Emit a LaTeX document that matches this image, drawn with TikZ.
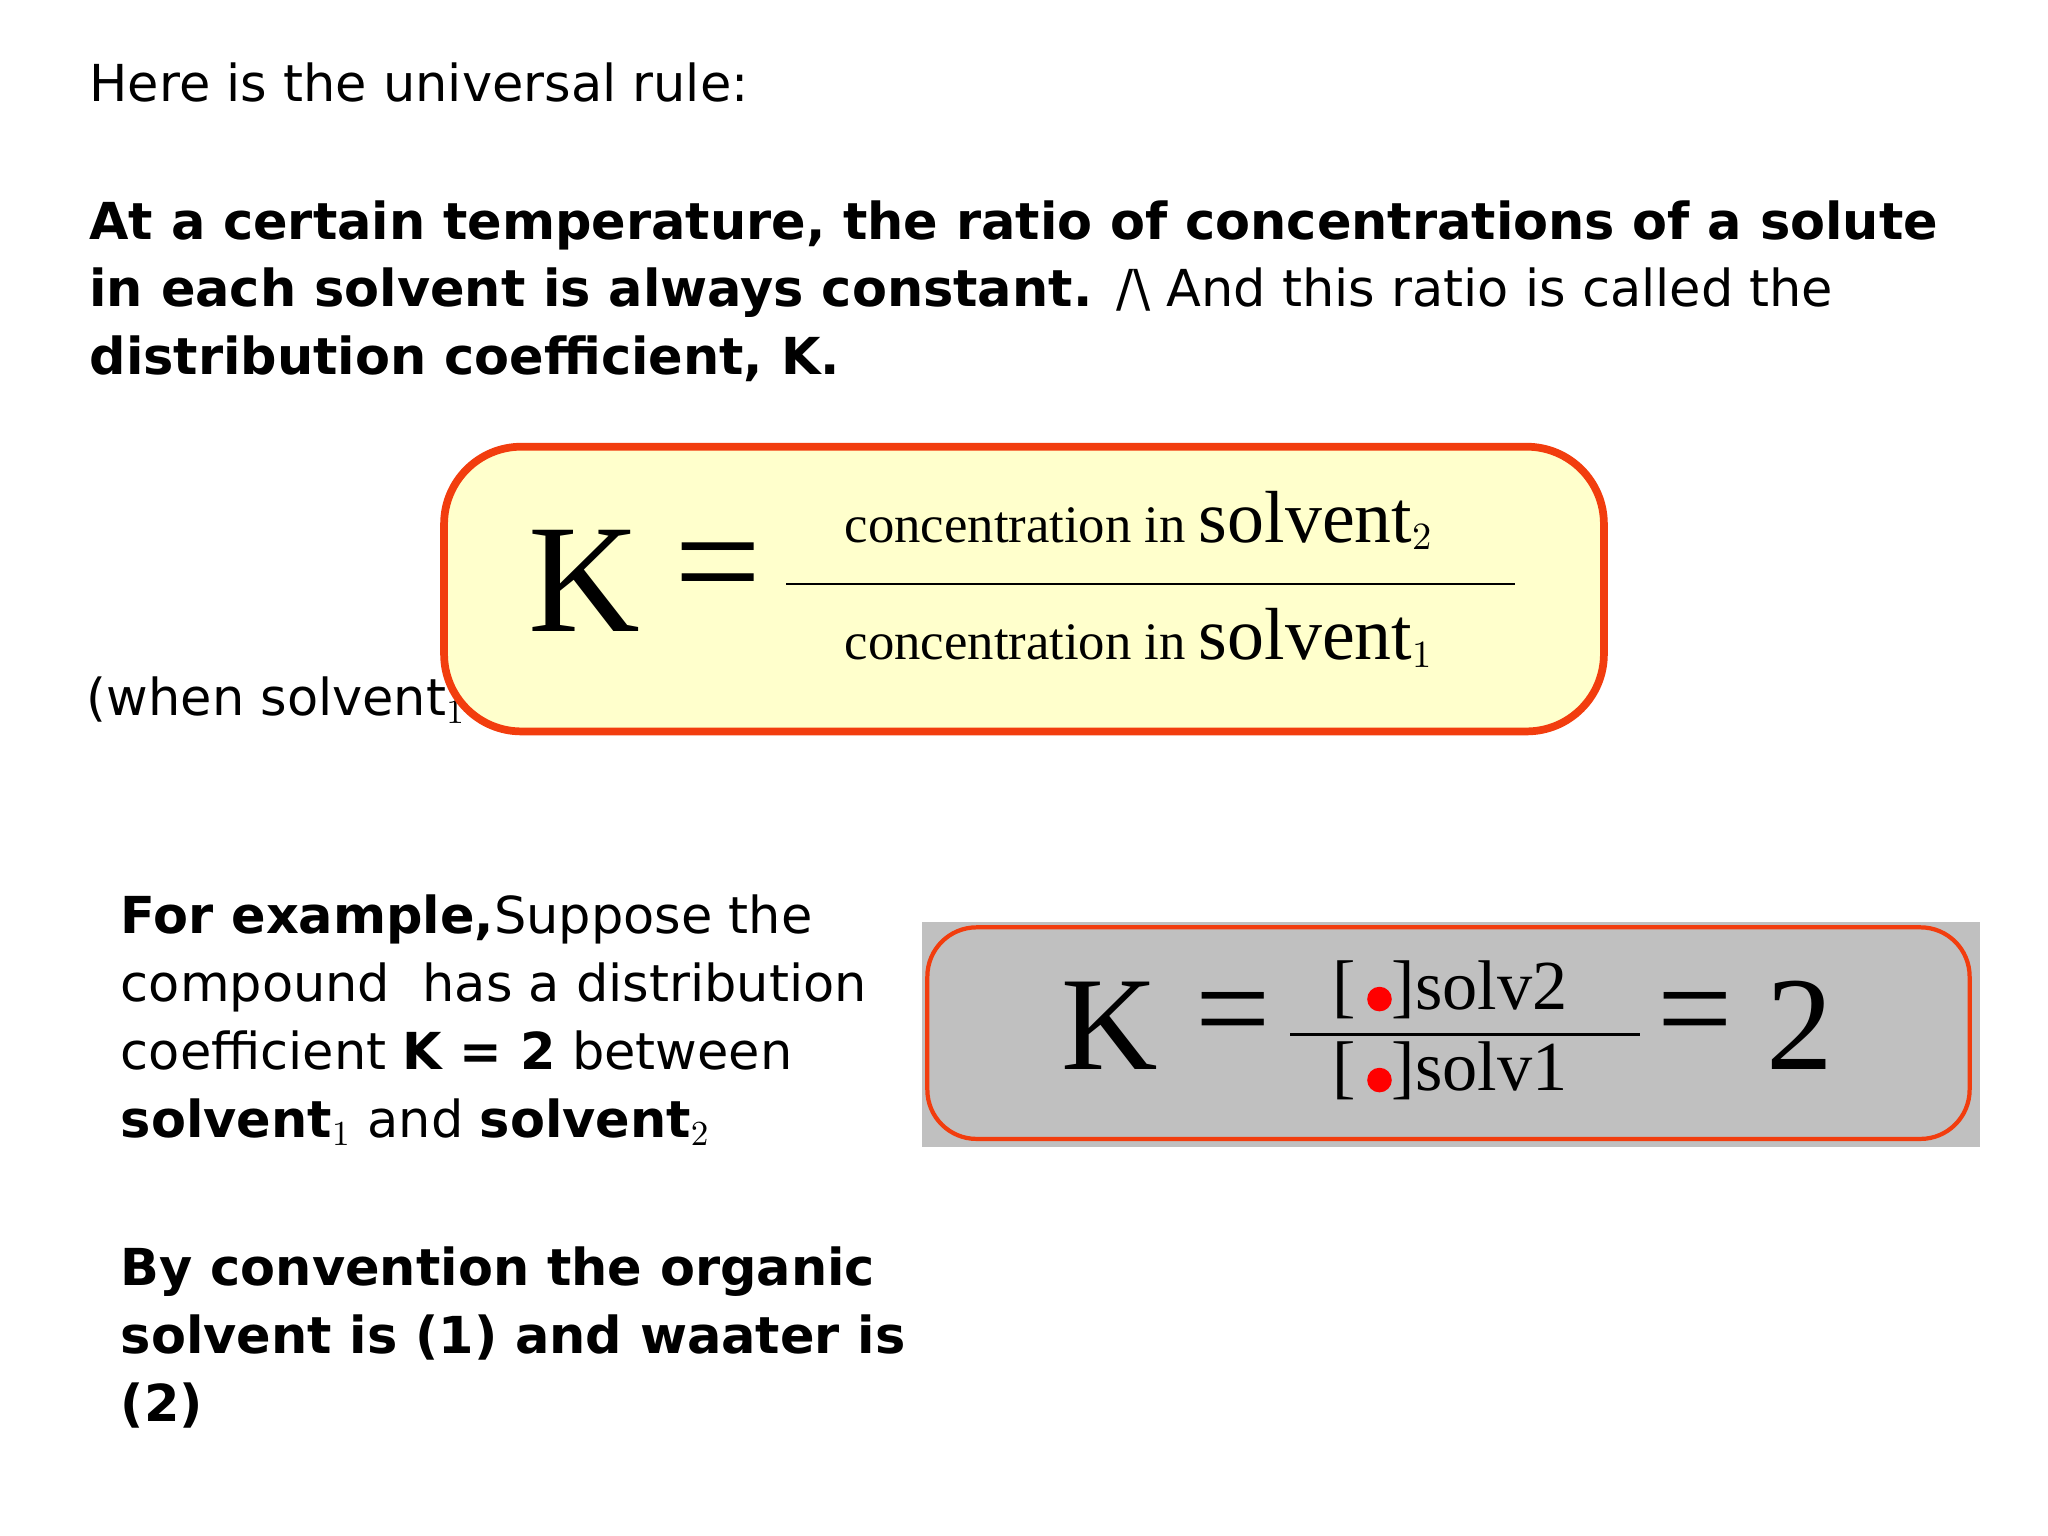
\documentclass[tikz,border=0pt]{standalone}
\usepackage{fontspec}
\setmainfont{DejaVu Sans}
\newfontfamily\serf{Liberation Serif}
\definecolor{boxred}{HTML}{F23D0E}
\definecolor{pale}{HTML}{FFFFCC}
\definecolor{gbox}{HTML}{C0C0C0}
\tikzset{x=0.01306cm,y=-0.01306cm,
 txt/.style={anchor=base west,inner sep=0pt,font=\fontsize{14.5}{19}\selectfont},
 big/.style={inner sep=0pt,font=\serf\fontsize{44}{44}\selectfont},
 mid/.style={inner sep=0pt,font=\serf\fontsize{38}{38}\selectfont}}
\newcommand{\rdot}{\tikz[baseline=-3pt]\fill[red] (0,0) circle (3.5pt);}
\begin{document}
\begin{tikzpicture}
\useasboundingbox[fill=white] (0,0) rectangle (1568,1176);
\node[txt] (t1) at (68,78) {Here is the universal rule:};
\node[txt] (t2) at (68,183) {\bfseries At a certain temperature, the ratio of concentrations of a solute};
\node[txt] (t3) at (68,235) {\bfseries in each solvent is always constant. \mdseries /\textbackslash\ And this ratio is called the};
\node[txt] (t4) at (68,287) {\bfseries distribution coefficient, K.};
\node[txt] (t5) at (66,548) {(when solvent$_1$};
\draw[boxred,line width=2.2pt,fill=pale,rounded corners=22] (340,342) rectangle (1228,560);
\node[big] (k1) at (447,445) {K};
\node[big] (eq1) at (550,443) {=};
\draw[line width=0.6pt] (602,447) -- (1160,447);
\node[inner sep=0pt,anchor=base] (num) at (872,415) {\serf\fontsize{15}{15}\selectfont concentration in {\fontsize{21}{21}\selectfont solvent}$_{\fontsize{13}{13}\selectfont 2}$};
\node[inner sep=0pt,anchor=base] (den) at (872,505) {\serf\fontsize{15}{15}\selectfont concentration in {\fontsize{21}{21}\selectfont solvent}$_{\fontsize{13}{13}\selectfont 1}$};
\node[txt] (e1) at (92,715) {\bfseries For example,\mdseries Suppose the};
\node[txt] (e2) at (92,767) {compound\ \ has a distribution};
\node[txt] (e3) at (92,819) {coefficient \textbf{K = 2} between};
\node[txt] (e4) at (92,871) {\textbf{solvent}$_1$ and \textbf{solvent}$_2$};
\node[txt] (c1) at (92,984) {\bfseries By convention the organic};
\node[txt] (c2) at (92,1036) {\bfseries solvent is (1) and waater is};
\node[txt] (c3) at (92,1088) {\bfseries (2)};
\fill[gbox] (706,706) rectangle (1516,878);
\draw[boxred,line width=1.2pt,rounded corners=14] (710,710) rectangle (1508,872);
\node[mid] (k2) at (850,785) {K};
\node[mid] (eq2) at (944,783) {=};
\draw[line width=0.6pt] (988,792) -- (1256,792);
\node[inner sep=0pt,anchor=base] (n2) at (1110,773) {\serf\fontsize{20}{20}\selectfont [\,\rdot]solv2};
\node[inner sep=0pt,anchor=base] (d2) at (1110,835) {\serf\fontsize{20}{20}\selectfont [\,\rdot]solv1};
\node[mid] (eq3) at (1298,783) {=};
\node[mid] (two) at (1378,785) {2};
\end{tikzpicture}
\end{document}
